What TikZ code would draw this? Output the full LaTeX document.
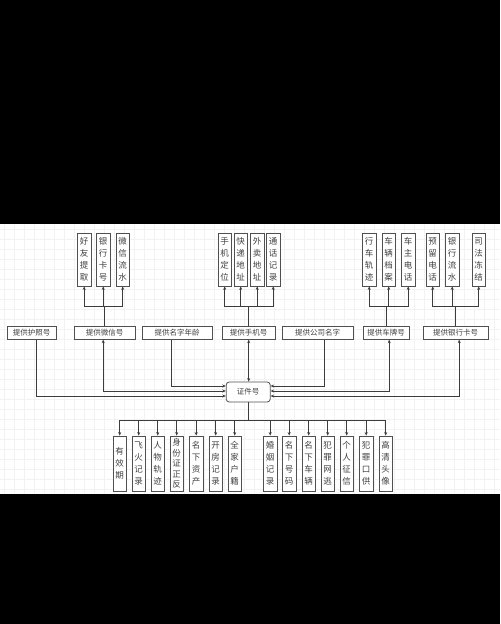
\documentclass[tikz,border=0pt]{standalone}
\usepackage{fontspec}
\setmainfont{Noto Sans CJK SC}
\usetikzlibrary{arrows.meta}

\definecolor{boxgray}{HTML}{505050}
\definecolor{linegray}{HTML}{3C3C3C}

\tikzset{
  item/.style={draw=boxgray, fill=white, line width=0.8pt, minimum width=13.5, minimum height=53,
    inner sep=0pt, align=center, text=black!75, font=\fontsize{8.5}{12}\selectfont},
  src/.style={draw=boxgray, fill=white, line width=0.8pt, minimum height=12.5, inner sep=0pt,
    text=black!75, font=\fontsize{7.5}{8}\selectfont},
  key/.style={src, rounded corners=3pt, minimum width=44, minimum height=20},
}

\begin{document}
\begin{tikzpicture}[x=1pt, y=-1pt, ->, >={Stealth[length=3.5pt,width=3pt]}, line width=0.7pt]

% background
\fill[black] (0,0) rectangle (500,624);
\fill[white] (0,224) rectangle (500,494);
\foreach \gx in {4,14,...,494} \draw[-, gray!10, line width=0.4pt] (\gx,224) -- (\gx,494);
\foreach \gy in {229,239,...,489} \draw[-, gray!10, line width=0.4pt] (0,\gy) -- (500,\gy);

% top row
\node[item] (HY) at (84,259.5) {好\\友\\提\\取};
\node[item] (YK) at (103,259.5) {银\\行\\卡\\号};
\node[item] (WL) at (122.5,259.5) {微\\信\\流\\水};

\node[item] (DW) at (224.5,259.5) {手\\机\\定\\位};
\node[item] (KD) at (240.5,259.5) {快\\递\\地\\址};
\node[item] (WM) at (257,259.5) {外\\卖\\地\\址};
\node[item] (TH) at (273,259.5) {通\\话\\记\\录};

\node[item] (GJ) at (369,259.5) {行\\车\\轨\\迹};
\node[item] (DA) at (388.5,259.5) {车\\辆\\档\\案};
\node[item] (CZ) at (408,259.5) {车\\主\\电\\话};

\node[item] (YL) at (432.5,259.5) {预\\留\\电\\话};
\node[item] (LS) at (452,259.5) {银\\行\\流\\水};
\node[item] (DJ) at (478.5,259.5) {司\\法\\冻\\结};

% second row
\node[src, minimum width=49] (HZ) at (31.5,333) {提供护照号};
\node[src, minimum width=61] (WX) at (104.5,333) {提供微信号};
\node[src, minimum width=70] (MZ) at (177,333) {提供名字年龄};
\node[src, minimum width=53] (SJ) at (248.5,333) {提供手机号};
\node[src, minimum width=71] (GS) at (317.5,333) {提供公司名字};
\node[src, minimum width=46] (CP) at (386,333) {提供车牌号};
\node[src, minimum width=65] (YH) at (455.5,333) {提供银行卡号};

% centre
\node[key] (ID) at (248,392) {证件号};

% bottom row
\node[item, minimum height=55] (YX) at (119.5,463.5) {有\\效\\期};
\node[item, minimum height=55] (FH) at (138.5,463.5) {飞\\火\\记\\录};
\node[item, minimum height=55] (RW) at (157.5,463.5) {人\\物\\轨\\迹};
\node[item, minimum height=55, font=\fontsize{8.5}{10.5}\selectfont] (SF) at (176.5,463.5) {身\\份\\证\\正\\反};
\node[item, minimum height=55] (ZC) at (196,463.5) {名\\下\\资\\产};
\node[item, minimum height=55] (KF) at (215.5,463.5) {开\\房\\记\\录};
\node[item, minimum height=55] (HJ) at (234.5,463.5) {全\\家\\户\\籍};
\node[item, minimum height=55] (HY2) at (270,463.5) {婚\\姻\\记\\录};
\node[item, minimum height=55] (HM) at (289,463.5) {名\\下\\号\\码};
\node[item, minimum height=55] (CL) at (308.5,463.5) {名\\下\\车\\辆};
\node[item, minimum height=55] (WT) at (327.5,463.5) {犯\\罪\\网\\逃};
\node[item, minimum height=55] (ZX) at (346.5,463.5) {个\\人\\征\\信};
\node[item, minimum height=55] (KG) at (366,463.5) {犯\\罪\\口\\供};
\node[item, minimum height=55] (TX) at (385.5,463.5) {高\\清\\头\\像};

\coordinate (up) at (0,306);
\coordinate (down) at (0,420);

% upward branches
\foreach \c in {HY,YK,WL} \draw[linegray] (WX.north) |- (up -| \c) -- (\c.south);
\foreach \c in {DW,KD,WM,TH} \draw[linegray] (SJ.north) |- (up -| \c) -- (\c.south);
\foreach \c in {GJ,DA,CZ} \draw[linegray] (CP.north) |- (up -| \c) -- (\c.south);
\foreach \c in {YL,LS,DJ} \draw[linegray] (YH.north) |- (up -| \c) -- (\c.south);

% into the centre
\draw[linegray] ([xshift=4.5pt]HZ.south) |- ([yshift=-4pt]ID.west);
\draw[linegray, <->] ([xshift=-1.5pt]WX.south) |- ([yshift=1pt]ID.west);
\draw[linegray] ([xshift=-6pt]MZ.south) |- ([yshift=6pt]ID.west);
\draw[linegray, <->] (SJ.south) -- (SJ.south |- ID.north);
\draw[linegray] ([xshift=6.5pt]GS.south) |- ([yshift=6pt]ID.east);
\draw[linegray, <->] ([xshift=3pt]CP.south) |- ([yshift=1pt]ID.east);
\draw[linegray, <->] ([xshift=3.5pt]YH.south) |- ([yshift=-4pt]ID.east);

% downward branches
\foreach \c in {YX,FH,RW,SF,ZC,KF,HJ,HY2,HM,CL,WT,ZX,KG,TX}
  \draw[linegray] (ID.south) |- (down -| \c) -- (\c.north);

\end{tikzpicture}
\end{document}
